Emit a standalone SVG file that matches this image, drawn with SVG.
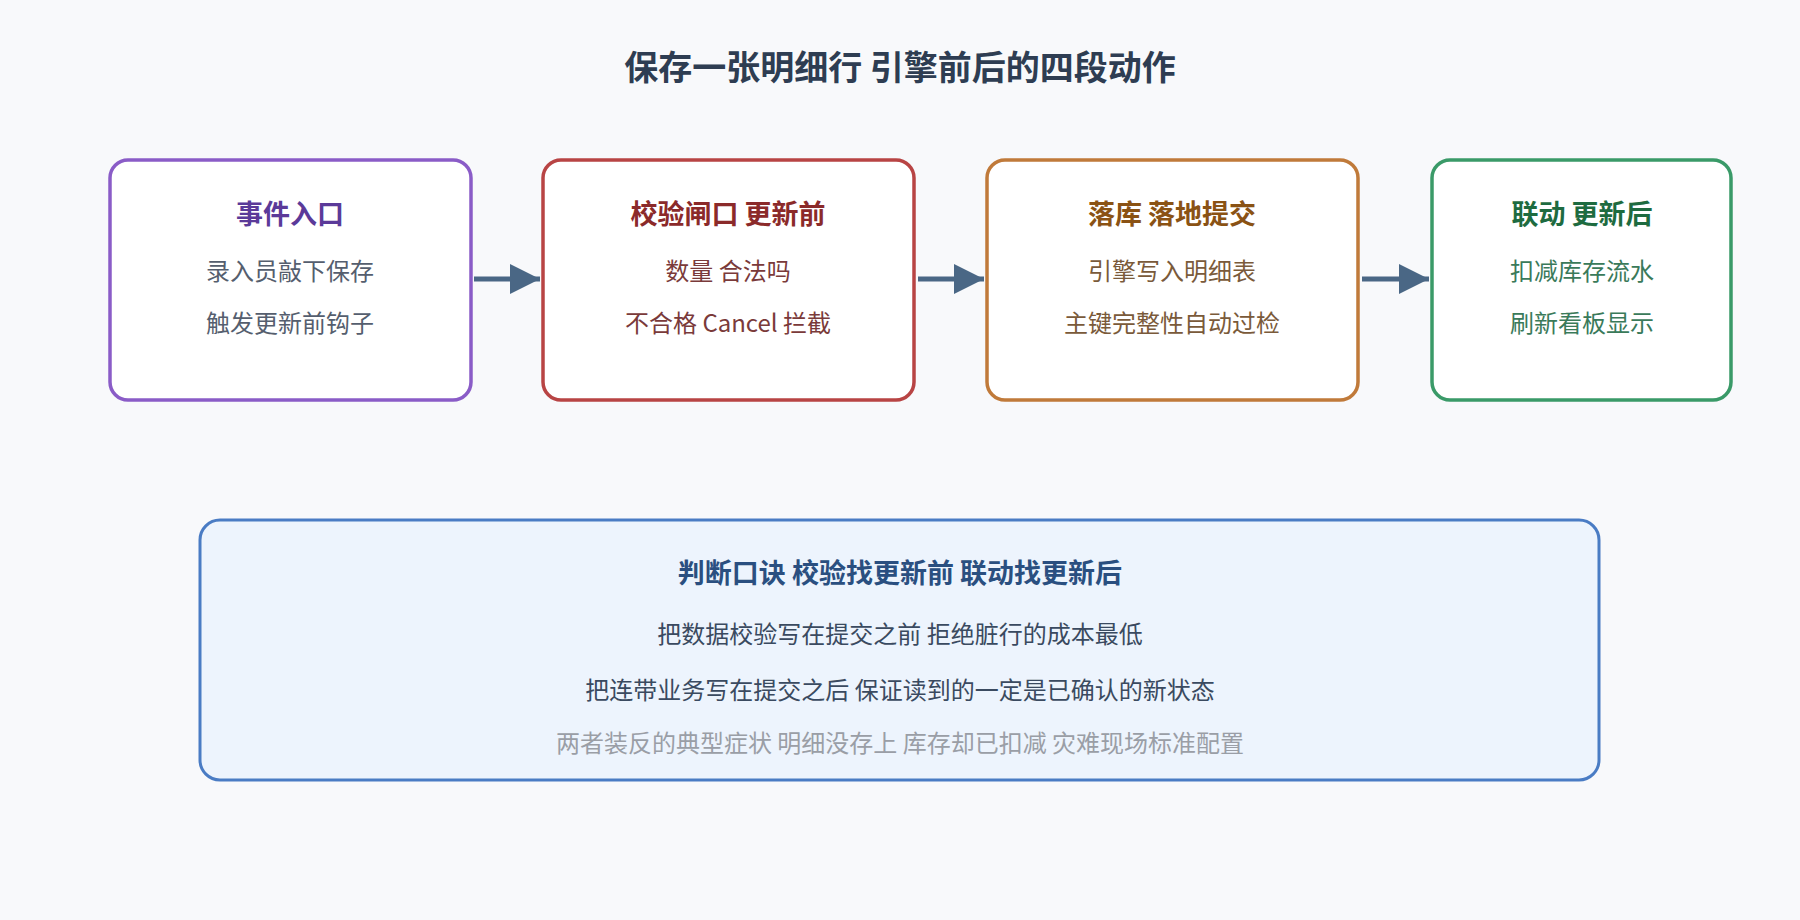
<svg xmlns="http://www.w3.org/2000/svg" width="1800" height="920" viewBox="0 0 1800 920">
<style>
text{font-family:"Noto Sans CJK SC","Noto Sans",sans-serif;text-anchor:middle}
.t{font-size:27px;font-weight:bold}
.l{font-size:24px}
.box{fill:#fff;stroke-width:3.5}
</style>
<defs><marker id="ah" markerWidth="6" markerHeight="6" refX="6" refY="3" orient="auto" markerUnits="strokeWidth"><path d="M0,0L6,3L0,6Z" fill="#4a6785"/></marker></defs>
<rect width="1800" height="920" fill="#f8f9fb"/>
<text x="900" y="80" style="font-size:34px;font-weight:bold" fill="#2e3d52">保存一张明细行 引擎前后的四段动作</text>
<g id="n1"><rect class="box" x="110" y="160" width="361" height="240" rx="18" stroke="#8a5cc7"/>
<text class="t" x="290" y="224" fill="#5b3a99">事件入口</text>
<text class="l" x="290" y="280" fill="#555e6e">录入员敲下保存</text>
<text class="l" x="290" y="332" fill="#555e6e">触发更新前钩子</text></g>
<g id="n2"><rect class="box" x="543" y="160" width="371" height="240" rx="18" stroke="#b84444"/>
<text class="t" x="728" y="224" fill="#8b2a2a">校验闸口 更新前</text>
<text class="l" x="728" y="280" fill="#7a3a3a">数量 合法吗</text>
<text class="l" x="728" y="332" fill="#7a3a3a">不合格 Cancel 拦截</text></g>
<g id="n3"><rect class="box" x="987" y="160" width="371" height="240" rx="18" stroke="#c07a3a"/>
<text class="t" x="1172" y="224" fill="#8a5214">落库 落地提交</text>
<text class="l" x="1172" y="280" fill="#7a5a3a">引擎写入明细表</text>
<text class="l" x="1172" y="332" fill="#7a5a3a">主键完整性自动过检</text></g>
<g id="n4"><rect class="box" x="1432" y="160" width="299" height="240" rx="18" stroke="#3a9a68"/>
<text class="t" x="1582" y="224" fill="#1e6b40">联动 更新后</text>
<text class="l" x="1582" y="280" fill="#3a7a5a">扣减库存流水</text>
<text class="l" x="1582" y="332" fill="#3a7a5a">刷新看板显示</text></g>
<g id="connectors" stroke="#4a6785" stroke-width="5" fill="none" marker-end="url(#ah)">
<line x1="474" y1="279" x2="540" y2="279"/>
<line x1="918" y1="279" x2="984" y2="279"/>
<line x1="1362" y1="279" x2="1429" y2="279"/>
</g>
<g id="note"><rect x="200" y="520" width="1399" height="260" rx="20" fill="#edf4fd" stroke="#4a7cc4" stroke-width="3"/>
<text class="t" x="900" y="583" fill="#2a4f80">判断口诀 校验找更新前 联动找更新后</text>
<text class="l" x="900" y="643" fill="#3a4a60">把数据校验写在提交之前 拒绝脏行的成本最低</text>
<text class="l" x="900" y="699" fill="#3a4a60">把连带业务写在提交之后 保证读到的一定是已确认的新状态</text>
<text class="l" x="900" y="752" fill="#9a9ea6">两者装反的典型症状 明细没存上 库存却已扣减 灾难现场标准配置</text></g>
</svg>
